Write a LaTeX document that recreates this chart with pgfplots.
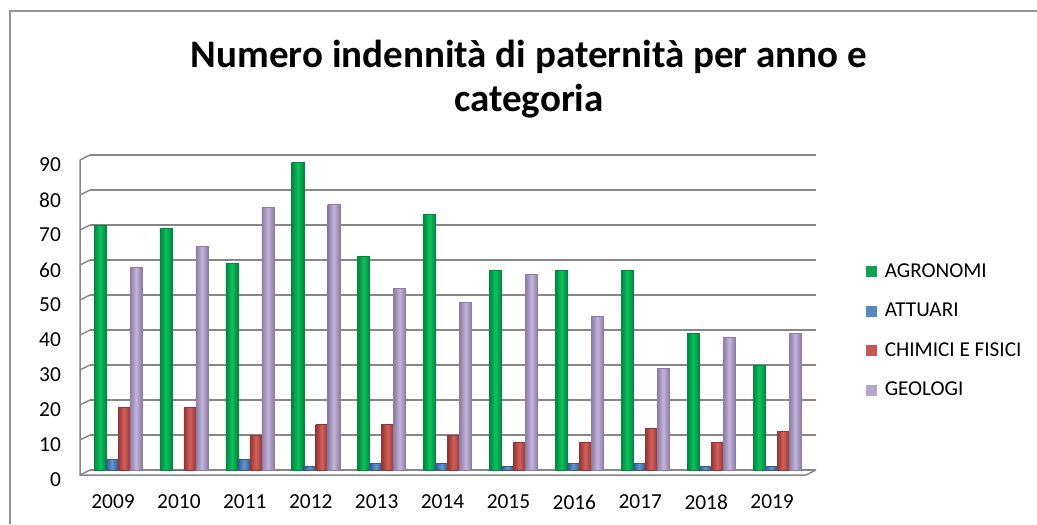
\documentclass[border=0pt]{standalone}
\usepackage{fontspec}
\setmainfont{Carlito}
\usepackage{pgfplots}
\usepackage{pgfplotstable}
\pgfplotsset{compat=1.18}
\definecolor{agr}{HTML}{10C060}
\definecolor{agrd}{HTML}{00883C}
\definecolor{att}{HTML}{6296D2}
\definecolor{attd}{HTML}{2F5B8E}
\definecolor{chi}{HTML}{D4605C}
\definecolor{chid}{HTML}{933633}
\definecolor{geo}{HTML}{C3B4DA}
\definecolor{geod}{HTML}{8D7DA6}
\definecolor{gridc}{HTML}{878787}
\pgfplotstableread{
x agr att chi geo
0 70 3 18 58
1 69 0 18 64
2 59 3 10 75
3 88 1 13 76
4 61 2 13 52
5 73 2 10 48
6 57 1 8 56
7 57 2 8 44
8 57 2 12 29
9 39 1 8 38
10 30 1 11 39
}\datatable
\pgfplotsset{
  sagr/.style={draw=agrd, line width=0.2pt, left color=agrd, right color=agrd, middle color=agr},
  satt/.style={draw=attd, line width=0.2pt, left color=attd, right color=attd, middle color=att},
  schi/.style={draw=chid, line width=0.2pt, left color=chid, right color=chid, middle color=chi},
  sgeo/.style={draw=geod, line width=0.2pt, left color=geod, right color=geod, middle color=geo},
  lagr/.style={fill=agr!85!black, draw=none},
  latt/.style={fill=att!90!black, draw=none},
  lchi/.style={fill=chi!92!black, draw=none},
  lgeo/.style={fill=geo!92!black, draw=none},
}
\begin{document}
\begin{tikzpicture}[x=1pt,y=1pt]
\path[use as bounding box] (0,0) rectangle (518.5,262);
\draw[gridc!90, line width=0.6pt] (5,0) -- (5,256.5) -- (518.5,256.5);
\node[font=\fontsize{19.5}{22}\selectfont\bfseries, align=center] at (264.5,222.5) {Numero indennità di paternità per anno e\\categoria};
\begin{axis}[
  at={(45pt,27pt)}, anchor=south west,
  scale only axis, width=363pt, height=157.5pt,
  xmin=-0.425, xmax=10.59, ymin=0, ymax=90,
  ytick={0,10,...,90}, xtick={0,...,10},
  xticklabels={2009,2010,2011,2012,2013,2014,2015,2016,2017,2018,2019},
  ymajorgrids, grid style={gridc, line width=0.75pt},
  axis line style={draw=none}, major tick length=0pt,
  ybar, bar width=6pt,
  clip=false,
  /pgf/number format/assume math mode=true,
  ticklabel style={font=\fontsize{10.7}{12}\selectfont},
  yticklabel style={xshift=-11pt, yshift=-5pt},
  xticklabel style={yshift=-9pt, xshift=-2.5pt},
  legend style={at={(axis description cs:1.068,0.441)}, anchor=west, draw=none, fill=none,
    inner sep=0pt, row sep=7.35pt, font=\fontsize{10.6}{12}\selectfont},
  legend cell align=left,
  legend image code/.code={\fill[#1] (0pt,-2.75pt) rectangle (5.5pt,2.75pt); \path (7.5pt,0pt);},
]
\pgfplotsinvokeforeach{0,1,2,3,4,5,6,7,8,9,10}{
  \addplot[sagr, bar shift=-9pt, forget plot, restrict x to domain=#1:#1] table[x=x,y=agr] {\datatable};
  \addplot[satt, bar shift=-3pt, forget plot, restrict x to domain=#1:#1] table[x=x,y=att] {\datatable};
  \addplot[schi, bar shift=3pt, forget plot, restrict x to domain=#1:#1] table[x=x,y=chi] {\datatable};
  \addplot[sgeo, bar shift=9pt, forget plot, restrict x to domain=#1:#1] table[x=x,y=geo] {\datatable};
}
\addlegendimage{lagr}
\addlegendimage{latt}
\addlegendimage{lchi}
\addlegendimage{lgeo}
\legend{AGRONOMI, ATTUARI, CHIMICI E FISICI, GEOLOGI}
\draw[gridc, line width=0.75pt] ([shift={(-5pt,-2.5pt)}]axis cs:-0.425,90) -- ([shift={(-5pt,-2.5pt)}]axis cs:-0.425,0) -- ([shift={(-5pt,-2.5pt)}]axis cs:10.59,0) -- (axis cs:10.59,0);
\pgfplotsinvokeforeach{0,10,20,30,40,50,60,70,80,90}{
  \draw[gridc, line width=0.75pt] (axis cs:-0.425,#1) -- ++(-5pt,-2.5pt);
}
\end{axis}
\end{tikzpicture}
\end{document}
